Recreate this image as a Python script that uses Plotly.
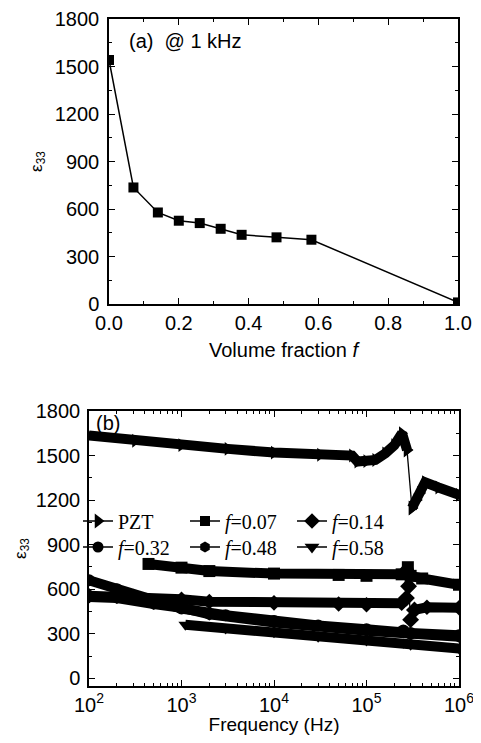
import plotly.graph_objects as go

# ---------- panel (a) ----------
vol_fraction = [0.0, 0.07, 0.14, 0.20, 0.26, 0.32, 0.38, 0.48, 0.58, 1.0]
eps_1khz = [1541, 736, 578, 526, 511, 475, 437, 421, 406, 10]

# ---------- panel (b) ----------
pzt_freq = [100, 316, 1000, 3160, 10000, 31600, 70000, 80000, 100000, 125000, 160000, 200000, 242000, 274000, 310000, 350000, 380000, 430000, 600000, 1000000]
pzt_eps = [1635, 1600, 1570, 1545, 1520, 1505, 1500, 1460, 1462, 1470, 1515, 1570, 1650, 1538, 1147, 1201, 1248, 1320, 1285, 1235]

f007_freq = [440, 1000, 2000, 10000, 50000, 100000, 240000, 280000, 300000, 400000, 1000000]
f007_eps = [770, 745, 722, 705, 696, 690, 700, 748, 690, 672, 630]

f014_freq = [100, 300, 1000, 2000, 10000, 50000, 100000, 240000, 270000, 285000, 300000, 330000, 450000, 1000000]
f014_eps = [556, 550, 532, 516, 508, 500, 495, 505, 540, 620, 395, 460, 478, 475]

f032_freq = [100, 200, 500, 1000, 3000, 10000, 30000, 100000, 250000, 300000, 1000000]
f032_eps = [660, 600, 515, 470, 425, 385, 355, 330, 322, 305, 290]

f048_freq = [100, 200, 500, 1000, 2000, 10000, 100000, 250000, 300000, 1000000]
f048_eps = [548, 540, 500, 475, 430, 375, 320, 310, 295, 280]

f058_freq = [1100, 3000, 10000, 30000, 100000, 250000, 300000, 1000000]
f058_eps = [360, 335, 310, 280, 255, 240, 225, 200]

# (name, freq, eps, symbol, legend marker size, legend id, thin-segment index range)
series = [
    ("PZT", pzt_freq, pzt_eps, "triangle-right", 13, "legend", (13, 14)),
    ("<i>f</i>=0.07", f007_freq, f007_eps, "square", 10, "legend", None),
    ("<i>f</i>=0.14", f014_freq, f014_eps, "diamond", 12, "legend", (8, 11)),
    ("<i>f</i>=0.32", f032_freq, f032_eps, "circle", 11, "legend2", None),
    ("<i>f</i>=0.48", f048_freq, f048_eps, "hexagon", 11, "legend2", None),
    ("<i>f</i>=0.58", f058_freq, f058_eps, "triangle-down", 13, "legend2", None),
]

# page has an 8px body margin: figure is drawn 8px right/down
OFF = 8
W, H = 481 - OFF, 743 - 2 * OFF


def px(x):
    return (x - OFF) / W


def py(y):
    return 1 - (y - OFF) / H


fig = go.Figure()

fig.add_trace(go.Scatter(
    x=vol_fraction, y=eps_1khz, mode="lines+markers",
    line=dict(color="black", width=1.5),
    marker=dict(symbol="square", size=10, color="black"),
    showlegend=False, xaxis="x", yaxis="y"))


def thick(fx, fy, sym):
    fig.add_trace(go.Scatter(
        x=fx, y=fy, mode="lines+markers",
        line=dict(color="black", width=10),
        marker=dict(symbol=sym, size=12, color="black"),
        showlegend=False, xaxis="x2", yaxis="y2"))


for name, fx, fy, sym, msize, leg, thin in series:
    if thin is None:
        thick(fx, fy, sym)
    else:
        a, b = thin
        thick(fx[:a + 1], fy[:a + 1], sym)
        thick(fx[b:], fy[b:], sym)
        fig.add_trace(go.Scatter(
            x=fx[a:b + 1], y=fy[a:b + 1], mode="lines+markers",
            line=dict(color="black", width=1.3),
            marker=dict(symbol=sym, size=13, color="black"),
            showlegend=False, xaxis="x2", yaxis="y2"))
    fig.add_trace(go.Scatter(
        x=[None], y=[None], mode="lines+markers", name=name,
        line=dict(color="black", width=1.3),
        marker=dict(symbol=sym, size=msize, color="black"),
        showlegend=True, legend=leg, xaxis="x2", yaxis="y2"))

axis_common = dict(
    showline=True, linecolor="black", linewidth=1.5, mirror="allticks",
    ticks="inside", ticklen=6, tickwidth=1.2, tickcolor="black",
    showgrid=False, zeroline=False, automargin=False,
    tickfont=dict(family="Liberation Sans, Arial", size=20, color="black"),
)

legend_common = dict(orientation="h", xanchor="left", yanchor="middle",
                     bgcolor="rgba(0,0,0,0)", entrywidth=62, entrywidthmode="pixels",
                     tracegroupgap=0,
                     font=dict(family="Liberation Serif, Times New Roman", size=20, color="black"))

fig.update_layout(
    template="none",
    width=W, height=H,
    margin=dict(l=0, r=0, t=0, b=0, autoexpand=False),
    paper_bgcolor="white", plot_bgcolor="white",
    xaxis=dict(domain=[px(109), px(458)], range=[0, 1], anchor="y",
               tickvals=[0, 0.2, 0.4, 0.6, 0.8, 1.0],
               ticktext=["0.0", "0.2", "0.4", "0.6", "0.8", "1.0"],
               minor=dict(dtick=0.1, ticks="inside", ticklen=3, tickcolor="black"),
               title=dict(text="Volume fraction <i>f</i>", standoff=10,
                          font=dict(family="Liberation Sans, Arial", size=20, color="black")),
               **axis_common),
    yaxis=dict(domain=[py(304), py(19)], range=[0, 1800], anchor="x",
               tickvals=[0, 300, 600, 900, 1200, 1500, 1800],
               minor=dict(dtick=150, ticks="inside", ticklen=3, tickcolor="black"),
               ticklabelstandoff=4,
               title=dict(text="ε<sub>33</sub>", standoff=8,
                          font=dict(family="Liberation Sans, Arial", size=17, color="black")),
               **axis_common),
    xaxis2=dict(domain=[px(89), px(459)], type="log", range=[2, 6], anchor="y2",
                tickvals=[100, 1000, 10000, 100000, 1000000],
                ticktext=["10<sup>2</sup>", "10<sup>3</sup>", "10<sup>4</sup>", "10<sup>5</sup>", "10<sup>6</sup>"],
                minor=dict(dtick="D1", ticks="inside", ticklen=3, tickcolor="black"),
                title=dict(text="Frequency (Hz)", standoff=8,
                           font=dict(family="Liberation Sans, Arial", size=19, color="black")),
                **axis_common),
    yaxis2=dict(domain=[py(686), py(411)], range=[-52, 1800], anchor="x2",
                tickvals=[0, 300, 600, 900, 1200, 1500, 1800],
                minor=dict(dtick=150, ticks="inside", ticklen=3, tickcolor="black"),
                ticklabelstandoff=3,
                title=dict(text="ε<sub>33</sub>", standoff=5,
                           font=dict(family="Liberation Sans, Arial", size=17, color="black")),
                **axis_common),
    legend=dict(x=px(78), y=py(521), **legend_common),
    legend2=dict(x=px(78), y=py(547), **legend_common),
    annotations=[
        dict(text="(a)  @ 1 kHz", x=px(127), y=py(41), xref="paper", yref="paper",
             xanchor="left", yanchor="middle", showarrow=False,
             font=dict(family="Liberation Sans, Arial", size=20, color="black")),
        dict(text="(b)", x=px(94), y=py(423), xref="paper", yref="paper",
             xanchor="left", yanchor="middle", showarrow=False,
             font=dict(family="Liberation Sans, Arial", size=20, color="black")),
    ],
)

fig.write_html("out.html")
